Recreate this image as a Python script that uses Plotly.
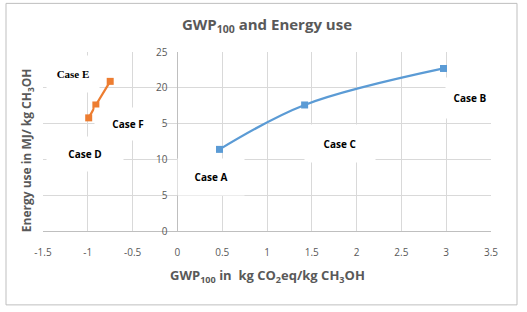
import plotly.graph_objects as go

# Data
blue_x = [0.47, 1.42, 2.97]
blue_y = [11.4, 17.6, 22.7]
orange_x = [-0.99, -0.91, -0.75]
orange_y = [15.8, 17.6, 20.9]

x_ticks = [-1.5, -1, -0.5, 0, 0.5, 1, 1.5, 2, 2.5, 3, 3.5]
x_tick_labels = ["-1.5", "-1", "-0.5", "0", "0.5", "1", "1.5", "2", "2.5", "3", "3.5"]
y_ticks = [0, 5, 10, 15, 20, 25]

case_labels = ["Case E", "Case F", "Case D", "Case A", "Case C", "Case B"]
case_x = [-1.17, -0.55, -1.03, 0.38, 1.82, 3.27]
case_y = [21.9, 15.0, 10.8, 7.6, 12.2, 18.6]

GRAY = "#595959"

fig = go.Figure()
fig.add_trace(go.Scatter(
    x=blue_x, y=blue_y, mode="lines+markers",
    line=dict(color="#5B9BD5", width=2.25, shape="spline", smoothing=1.0),
    marker=dict(symbol="square", size=7, color="#5B9BD5"),
    showlegend=False, hoverinfo="skip"))
fig.add_trace(go.Scatter(
    x=orange_x, y=orange_y, mode="lines+markers",
    line=dict(color="#ED7D31", width=2.25),
    marker=dict(symbol="square", size=7, color="#ED7D31"),
    showlegend=False, hoverinfo="skip"))

# label boxes (width, height in px) and fonts
box_w = [50, 64, 74, 64, 68, 46]
box_h = [34, 30, 32, 34, 35, 38]
fonts = ["Liberation Serif", "Open Sans", "Open Sans", "Open Sans", "Open Sans", "Open Sans"]
for lab, cx, cy, w, h, f in zip(case_labels, case_x, case_y, box_w, box_h, fonts):
    fig.add_annotation(
        x=cx, y=cy, xref="x", yref="y", text="<b>%s</b>" % lab, showarrow=False,
        font=dict(family=f, size=10 if f == "Open Sans" else 11, color="#000000"),
        bgcolor="white", width=w, height=h, align="center", valign="middle")

# axis titles
fig.add_annotation(
    x=0.5, y=-0.25, xref="paper", yref="paper", xanchor="center", yanchor="middle",
    text="<b>GWP<sub>100</sub> in  kg CO<sub>2</sub>eq/kg CH<sub>3</sub>OH</b>",
    showarrow=False, font=dict(family="Open Sans", size=13, color=GRAY))
fig.add_annotation(
    x=-0.034, y=0.45, xref="paper", yref="paper", xanchor="center", yanchor="middle",
    text="<b>Energy use in MJ/ kg CH<sub>3</sub>OH</b>", textangle=-90,
    showarrow=False, font=dict(family="Open Sans", size=12, color=GRAY))

# outer border
fig.add_shape(type="rect", xref="paper", yref="paper",
              x0=-37 / 448, x1=(517 - 43) / 448,
              y0=-(305 - 231) / 179.3, y1=(231 - 3) / 179.3,
              line=dict(color="#BFBFBF", width=1), fillcolor="rgba(0,0,0,0)", layer="below")

fig.update_layout(
    width=527, height=312,
    margin=dict(l=43, r=36, t=52, b=81),
    paper_bgcolor="white", plot_bgcolor="white",
    title=dict(text="<b>GWP<sub>100</sub> and Energy use</b>", x=0.5, xref="paper",
               y=0.92, yref="container", xanchor="center", yanchor="middle",
               font=dict(family="Open Sans", size=15, color=GRAY)),
    xaxis=dict(range=[-1.5, 3.5], tickvals=x_ticks, ticktext=x_tick_labels,
               showgrid=True, gridcolor="#D9D9D9", gridwidth=1,
               zeroline=False, showline=True, linecolor="#BFBFBF",
               ticks="outside", ticklen=12, tickcolor="rgba(0,0,0,0)",
               tickfont=dict(family="Open Sans", size=10, color=GRAY),
               fixedrange=True),
    yaxis=dict(range=[0, 25], tickvals=y_ticks, anchor="free", position=0.3,
               showgrid=True, gridcolor="#D9D9D9", gridwidth=1,
               zeroline=False, showline=True, linecolor="#BFBFBF",
               ticks="outside", ticklen=8, tickcolor="rgba(0,0,0,0)",
               tickfont=dict(family="Open Sans", size=10, color=GRAY),
               fixedrange=True),
)

fig.write_html("out.html", config={"displayModeBar": False},
               post_script="document.body.style.margin='0px';document.body.style.overflow='hidden';")
